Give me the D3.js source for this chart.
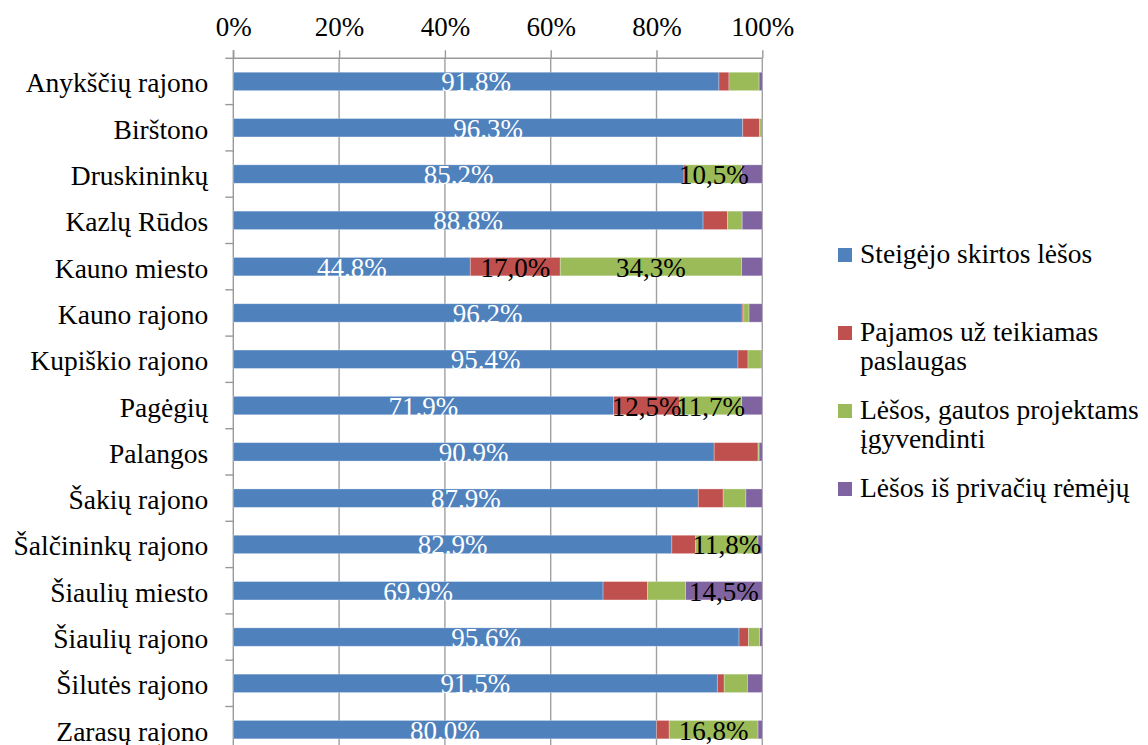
<!DOCTYPE html>
<html>
<head>
<meta charset="utf-8">
<script src="https://cdn.jsdelivr.net/npm/d3@7"></script>
<style>
  body { margin: 0; background: #fff; }
  text { font-family: "Liberation Serif", "Times New Roman", serif; }
</style>
</head>
<body>
<div id="chart"></div>
<script>
// categories (top to bottom)
var categories = ['Anykščių rajono', 'Birštono', 'Druskininkų', 'Kazlų Rūdos', 'Kauno miesto',
  'Kauno rajono', 'Kupiškio rajono', 'Pagėgių', 'Palangos', 'Šakių rajono',
  'Šalčininkų rajono', 'Šiaulių miesto', 'Šiaulių rajono', 'Šilutės rajono', 'Zarasų rajono'];

// series values, percent
var steigejo   = [91.8, 96.3, 85.2, 88.8, 44.8, 96.2, 95.4, 71.9, 90.9, 87.9, 82.9, 69.9, 95.6, 91.5, 80.0];
var pajamos    = [1.9, 3.2, 0.4, 4.6, 17.0, 0.3, 1.9, 12.5, 8.3, 4.7, 4.5, 8.4, 1.8, 1.3, 2.4];
var projektams = [5.7, 0.3, 10.5, 2.8, 34.3, 1.0, 2.5, 11.7, 0.2, 4.3, 11.8, 7.2, 2.1, 4.4, 16.8];
var remeju     = [0.6, 0.2, 3.9, 3.8, 3.9, 2.5, 0.2, 3.9, 0.6, 3.1, 0.8, 14.5, 0.5, 2.8, 0.8];

// which bars carry a data label (blue has all)
var pajamosLabelled    = ['Kauno miesto', 'Pagėgių'];
var projektamsLabelled = ['Druskininkų', 'Kauno miesto', 'Pagėgių', 'Šalčininkų rajono', 'Zarasų rajono'];
var remejuLabelled     = ['Šiaulių miesto'];

var seriesNames = [['Steigėjo skirtos lėšos'], ['Pajamos už teikiamas', 'paslaugas'],
  ['Lėšos, gautos projektams', 'įgyvendinti'], ['Lėšos iš privačių rėmėjų']];
var tickValues = [0, 20, 40, 60, 80, 100];

var colors = ['#4F81BD', '#C0504D', '#9BBB59', '#8064A2'];
var serif = '"Liberation Serif", "Times New Roman", serif';

var margin = {top: 58.3, left: 233.3},
    width = 529,
    height = 694.5;

var svg = d3.select('#chart').append('svg')
    .attr('width', 1148)
    .attr('height', 745);

var vis = svg.append('g')
    .attr('transform', 'translate(' + margin.left + ',' + margin.top + ')');

var x = d3.scaleLinear().domain([0, 100]).range([0, width]);
var y = d3.scaleBand().domain(categories).range([0, height])
    .paddingInner(0.6026).paddingOuter(0.3013);

// gridlines
vis.append('g').selectAll('line')
    .data(tickValues.slice(1))
    .enter().append('line')
    .attr('x1', function(d) { return x(d); })
    .attr('x2', function(d) { return x(d); })
    .attr('y1', 0).attr('y2', height)
    .attr('stroke', '#a0a0a0').attr('stroke-width', 1.4);

// top axis
var xAxis = vis.append('g')
    .call(d3.axisTop(x).tickValues(tickValues).tickSize(8).tickSizeOuter(0).tickPadding(14)
      .tickFormat(function(d) { return d + '%'; }));
xAxis.select('.domain').remove();
xAxis.selectAll('line').attr('stroke', '#999').attr('stroke-width', 1.4);
xAxis.selectAll('text').attr('font-size', 27).attr('fill', '#000')
    .style('font-family', serif);

// left axis with boundary ticks
var yAxis = vis.append('g')
    .call(d3.axisLeft(y).tickSize(0).tickPadding(25));
yAxis.select('.domain').remove();
yAxis.selectAll('text').attr('font-size', 27.5).attr('fill', '#000').attr('dy', '0.4em')
    .style('font-family', serif);

var bounds = d3.range(categories.length + 1).map(function(i) { return i * y.step(); });
vis.append('g').selectAll('line')
    .data(bounds)
    .enter().append('line')
    .attr('x1', -8).attr('x2', 0)
    .attr('y1', function(d) { return d; }).attr('y2', function(d) { return d; })
    .attr('stroke', '#999').attr('stroke-width', 1.4);

vis.append('line').attr('x1', 0).attr('x2', width).attr('y1', 0).attr('y2', 0)
    .attr('stroke', '#999').attr('stroke-width', 1.4);
vis.append('line').attr('x1', 0).attr('x2', 0).attr('y1', -8).attr('y2', height)
    .attr('stroke', '#999').attr('stroke-width', 1.4);

// stack
var rows = categories.map(function(c, i) {
  return {cat: c, s0: steigejo[i], s1: pajamos[i], s2: projektams[i], s3: remeju[i]};
});
var keys = ['s0', 's1', 's2', 's3'];
var stacked = d3.stack().keys(keys)(rows);
var labelled = [categories, pajamosLabelled, projektamsLabelled, remejuLabelled];

var layers = vis.selectAll('.layer')
    .data(stacked)
    .enter().append('g')
    .attr('class', 'layer')
    .attr('fill', function(d, i) { return colors[i]; });

layers.selectAll('rect')
    .data(function(d) { return d; })
    .enter().append('rect')
    .attr('x', function(d) { return x(d[0]); })
    .attr('width', function(d) { return x(d[1]) - x(d[0]); })
    .attr('y', function(d) { return y(d.data.cat); })
    .attr('height', y.bandwidth())
    .attr('stroke', 'rgba(255,255,255,0.35)')
    .attr('stroke-width', 0.8);

// data labels
stacked.forEach(function(layer, k) {
  vis.append('g').selectAll('text')
    .data(layer.filter(function(d) { return labelled[k].indexOf(d.data.cat) >= 0; }))
    .enter().append('text')
    .attr('x', function(d) { return x((d[0] + d[1]) / 2); })
    .attr('y', function(d) { return y(d.data.cat) + y.bandwidth() / 2 + 10; })
    .attr('text-anchor', 'middle')
    .attr('font-size', 27)
    .style('font-family', serif)
    .attr('fill', k === 0 ? '#fff' : '#000')
    .text(function(d) {
      var v = (d[1] - d[0]).toFixed(1);
      return (k === 0 ? v : v.replace('.', ',')) + '%';
    });
});

// legend
var legend = svg.append('g');
seriesNames.forEach(function(lines, i) {
  var base = 263 + i * 78;
  legend.append('rect')
      .attr('x', 838).attr('y', base - 15)
      .attr('width', 14).attr('height', 14)
      .attr('fill', colors[i]);
  lines.forEach(function(t, j) {
    legend.append('text')
        .attr('x', 860).attr('y', base + j * 28.5)
        .attr('font-size', 27.5).attr('fill', '#000')
        .style('font-family', serif)
        .text(t);
  });
});
</script>
</body>
</html>
